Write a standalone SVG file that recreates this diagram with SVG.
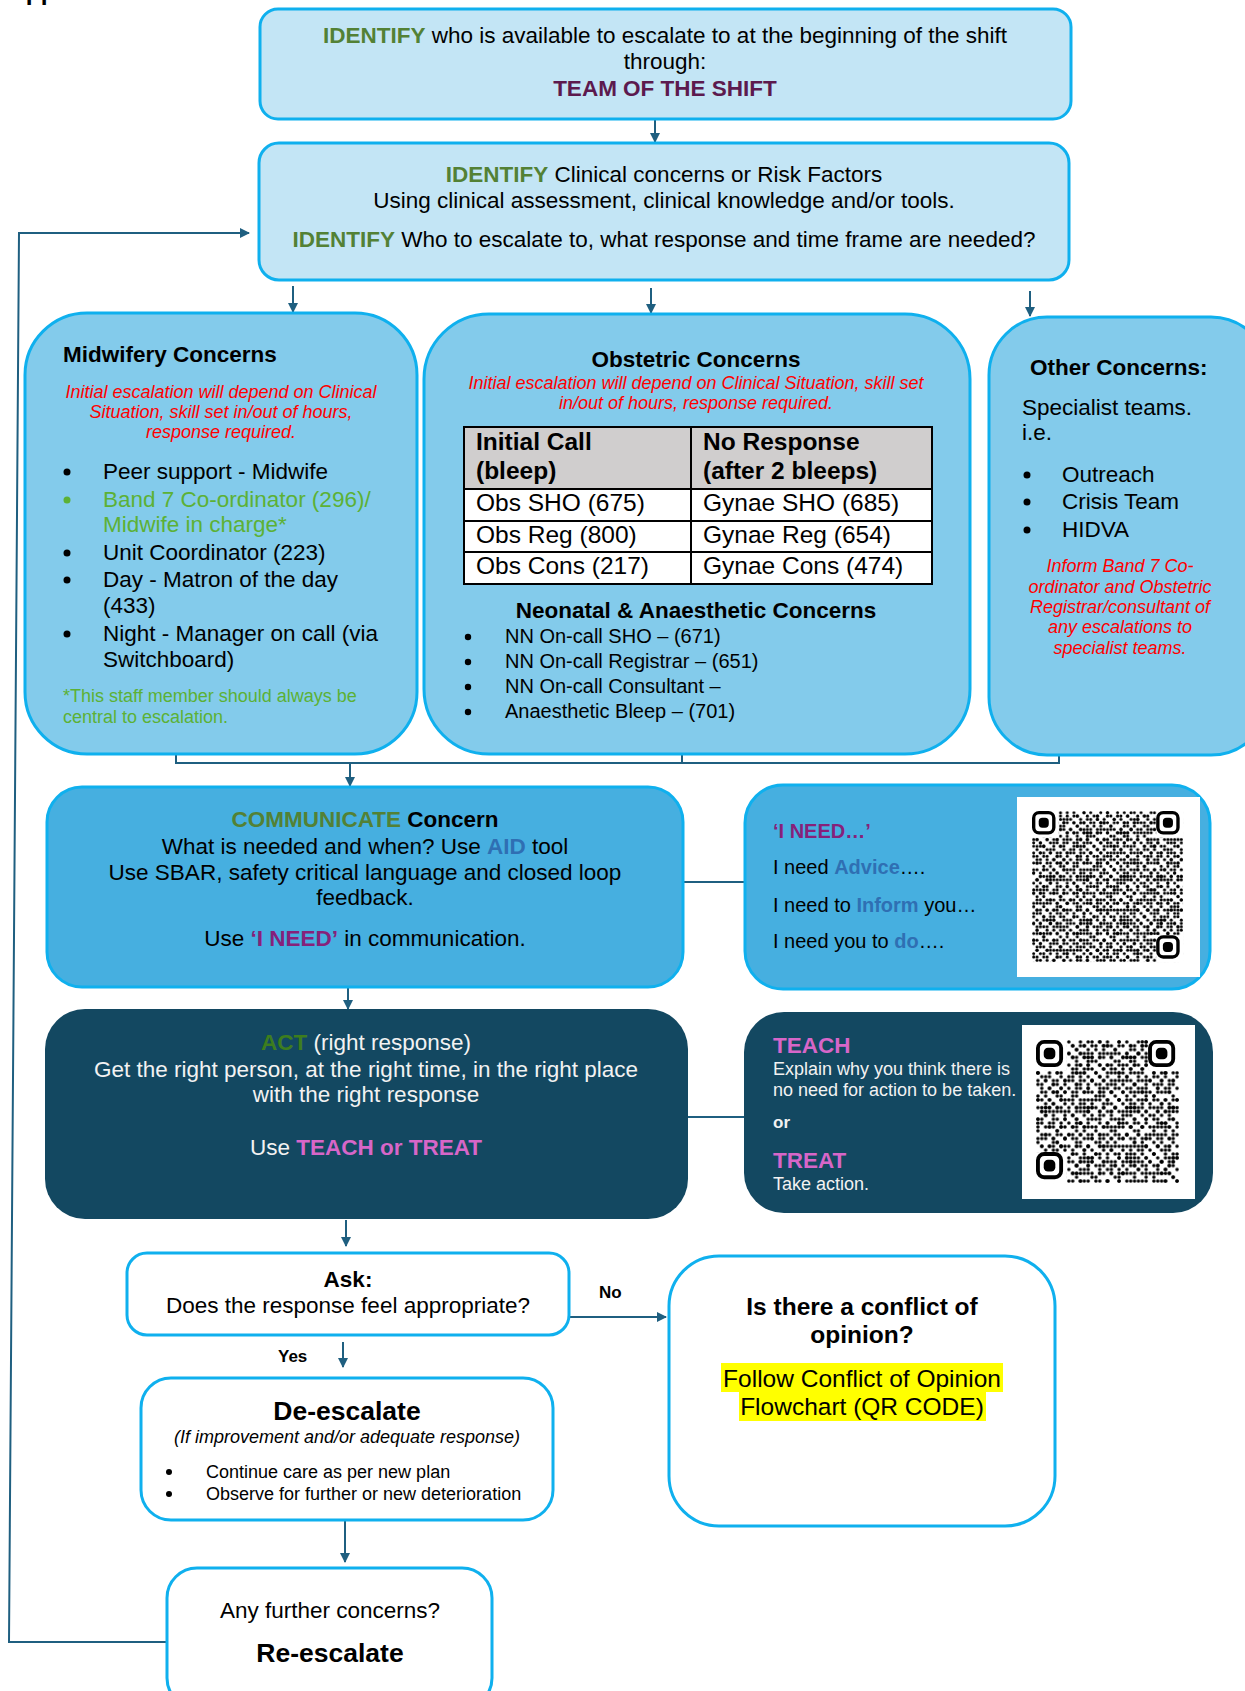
<svg xmlns="http://www.w3.org/2000/svg" width="1245" height="1691" viewBox="0 0 1245 1691">
<style>
text{font-family:"Liberation Sans",Arial,Helvetica,sans-serif;fill:#000}
.c{text-anchor:middle}
.b{font-weight:bold}
.i{font-style:italic}
.f22{font-size:22.5px}
.f20{font-size:20px}
.f18{font-size:18px}
.f24{font-size:24.5px}
.f26{font-size:26.5px}
.red{fill:#ff0000}
.grn{fill:#538135}
.lg{fill:#5cb135}
.pur{fill:#5c1a4e}
.mag{fill:#86217a}
.blu{fill:#2f6fb3}
.pink{fill:#d766c8}
.wh{fill:#f2f2f2}
.agrn{fill:#3d7d1e}
.light{fill:#c3e5f5;stroke:#0fb0ee;stroke-width:3}
.mid{fill:#83cbeb;stroke:#0fb0ee;stroke-width:3}
.comm{fill:#46afe0;stroke:#0fb0ee;stroke-width:3}
.dark{fill:#134861}
.white{fill:#ffffff;stroke:#0fb0ee;stroke-width:3}
.conn{stroke:#1f5f80;stroke-width:2;fill:none}
.arr{stroke:#1f5f80;stroke-width:2;fill:none;marker-end:url(#ah)}
.tbl{fill:none;stroke:#000;stroke-width:2}
</style>
<defs>
<marker id="ah" viewBox="0 0 10 10" refX="9" refY="5" markerWidth="5" markerHeight="5" orient="auto" markerUnits="strokeWidth">
<path d="M0,0 L10,5 L0,10 z" fill="#1f5f80"/>
</marker>
<pattern id="q1" width="5" height="3" patternUnits="userSpaceOnUse">
<circle cx="0.5" cy="0.5" r="0.45"/><circle cx="2.5" cy="0.5" r="0.45"/><circle cx="3.5" cy="1.5" r="0.45"/><circle cx="1.5" cy="2.5" r="0.45"/><circle cx="4.5" cy="2.5" r="0.45"/>
</pattern>
<pattern id="q2" width="7" height="5" patternUnits="userSpaceOnUse">
<circle cx="1.5" cy="0.5" r="0.45"/><circle cx="5.5" cy="1.5" r="0.45"/><circle cx="3.5" cy="2.5" r="0.45"/><circle cx="0.5" cy="3.5" r="0.45"/><circle cx="6.5" cy="4.5" r="0.45"/><circle cx="2.5" cy="4.5" r="0.45"/>
</pattern>
<pattern id="q3" width="3" height="7" patternUnits="userSpaceOnUse">
<circle cx="1.5" cy="1.5" r="0.45"/><circle cx="0.5" cy="3.5" r="0.45"/><circle cx="2.5" cy="5.5" r="0.45"/><circle cx="1.5" cy="6.5" r="0.45"/>
</pattern>
<pattern id="q4" width="11" height="13" patternUnits="userSpaceOnUse">
<circle cx="4.5" cy="6.5" r="0.45"/><circle cx="5.5" cy="6.5" r="0.45"/><circle cx="6.5" cy="6.5" r="0.45"/><circle cx="5.5" cy="7.5" r="0.45"/><circle cx="8.5" cy="2.5" r="0.45"/><circle cx="9.5" cy="3.5" r="0.45"/><circle cx="2.5" cy="10.5" r="0.45"/><circle cx="3.5" cy="10.5" r="0.45"/>
</pattern>
<g id="finder">
<rect x="0" y="0" width="8" height="8" fill="#fff"/>
<rect x="0.5" y="0.5" width="6" height="6" rx="1.6" fill="none" stroke="#000" stroke-width="1"/>
<rect x="2" y="2" width="3" height="3" rx="1.1" fill="#000"/>
</g>
</defs>

<text x="8" y="0" class="b f24">Appendix</text>

<g id="connectors">
<line class="arr" x1="655" y1="119" x2="655" y2="142"/>
<polyline class="arr" points="167,1642 9,1642 19,233 249,233"/>
<line class="arr" x1="293" y1="286" x2="293" y2="312"/>
<line class="arr" x1="651" y1="288" x2="651" y2="313"/>
<line class="arr" x1="1030" y1="291" x2="1030" y2="316"/>
<polyline class="conn" points="176,751 176,763 1059,763 1059,748"/>
<line class="conn" x1="682" y1="745" x2="682" y2="763"/>
<line class="arr" x1="350" y1="763" x2="350" y2="786"/>
<line class="conn" x1="683" y1="882" x2="745" y2="882"/>
<line class="arr" x1="348" y1="987" x2="348" y2="1009"/>
<line class="conn" x1="688" y1="1117" x2="744" y2="1117"/>
<line class="arr" x1="346" y1="1220" x2="346" y2="1246"/>
<line class="arr" x1="569" y1="1317" x2="666" y2="1317"/>
<line class="arr" x1="343" y1="1342" x2="343" y2="1367"/>
<line class="arr" x1="345" y1="1520" x2="345" y2="1562"/>
</g>

<g id="identify-team">
<rect class="light" x="260" y="9" width="811" height="110" rx="18"/>
<text x="665" y="43" class="c f22"><tspan class="b grn">IDENTIFY</tspan> who is available to escalate to at the beginning of the shift</text>
<text x="665" y="69" class="c f22">through:</text>
<text x="665" y="96" class="c f22 b pur">TEAM OF THE SHIFT</text>
</g>

<g id="identify-concerns">
<rect class="light" x="259" y="143" width="810" height="137" rx="20"/>
<text x="664" y="182" class="c f22"><tspan class="b grn">IDENTIFY</tspan> Clinical concerns or Risk Factors</text>
<text x="664" y="208" class="c f22">Using clinical assessment, clinical knowledge and/or tools.</text>
<text x="664" y="247" class="c f22"><tspan class="b grn">IDENTIFY</tspan> Who to escalate to, what response and time frame are needed?</text>
</g>

<g id="midwifery">
<rect class="mid" x="25" y="313" width="392" height="441" rx="62"/>
<text x="63" y="362" class="b f22">Midwifery Concerns</text>
<text x="221" y="398" class="c i f18 red">Initial escalation will depend on Clinical</text>
<text x="221" y="418" class="c i f18 red">Situation, skill set in/out of hours,</text>
<text x="221" y="438" class="c i f18 red">response required.</text>
<g class="f22">
<circle cx="67" cy="472" r="3.5"/>
<text x="103" y="479">Peer support - Midwife</text>
<circle cx="67" cy="500" r="3.5" fill="#5cb135"/>
<text x="103" y="507" class="lg">Band 7 Co-ordinator (296)/</text>
<text x="103" y="532" class="lg">Midwife in charge*</text>
<circle cx="67" cy="553" r="3.5"/>
<text x="103" y="560">Unit Coordinator (223)</text>
<circle cx="67" cy="580" r="3.5"/>
<text x="103" y="587">Day - Matron of the day</text>
<text x="103" y="613">(433)</text>
<circle cx="67" cy="634" r="3.5"/>
<text x="103" y="641">Night - Manager on call (via</text>
<text x="103" y="667">Switchboard)</text>
</g>
<text x="63" y="702" class="f18 lg">*This staff member should always be</text>
<text x="63" y="723" class="f18 lg">central to escalation.</text>
</g>

<g id="obstetric">
<rect class="mid" x="424" y="314" width="546" height="440" rx="65"/>
<text x="696" y="367" class="c b f22">Obstetric Concerns</text>
<text x="696" y="389" class="c i f18 red">Initial escalation will depend on Clinical Situation, skill set</text>
<text x="696" y="409" class="c i f18 red">in/out of hours, response required.</text>
<rect x="464" y="427" width="468" height="62" fill="#d0cece"/>
<rect x="464" y="489" width="468" height="95" fill="#ffffff"/>
<rect class="tbl" x="464" y="427" width="468" height="157"/>
<line class="tbl" x1="691" y1="427" x2="691" y2="584"/>
<line class="tbl" x1="464" y1="489" x2="932" y2="489"/>
<line class="tbl" x1="464" y1="521" x2="932" y2="521"/>
<line class="tbl" x1="464" y1="552" x2="932" y2="552"/>
<g class="f24">
<text x="476" y="450" class="b">Initial Call</text>
<text x="476" y="479" class="b">(bleep)</text>
<text x="703" y="450" class="b">No Response</text>
<text x="703" y="479" class="b">(after 2 bleeps)</text>
<text x="476" y="511">Obs SHO (675)</text>
<text x="703" y="511">Gynae SHO (685)</text>
<text x="476" y="543">Obs Reg (800)</text>
<text x="703" y="543">Gynae Reg (654)</text>
<text x="476" y="574">Obs Cons (217)</text>
<text x="703" y="574">Gynae Cons (474)</text>
</g>
<text x="696" y="618" class="c b f22">Neonatal &amp; Anaesthetic Concerns</text>
<g class="f20">
<circle cx="468" cy="637" r="3.2"/>
<text x="505" y="643">NN On-call SHO – (671)</text>
<circle cx="468" cy="662" r="3.2"/>
<text x="505" y="668">NN On-call Registrar – (651)</text>
<circle cx="468" cy="687" r="3.2"/>
<text x="505" y="693">NN On-call Consultant –</text>
<circle cx="468" cy="712" r="3.2"/>
<text x="505" y="718">Anaesthetic Bleep – (701)</text>
</g>
</g>

<g id="other">
<rect class="mid" x="989" y="317" width="280" height="438" rx="58"/>
<text x="1030" y="375" class="b f22">Other Concerns:</text>
<text x="1022" y="415" class="f22">Specialist teams.</text>
<text x="1022" y="440" class="f22">i.e.</text>
<g class="f22">
<circle cx="1027" cy="475" r="3.5"/>
<text x="1062" y="482">Outreach</text>
<circle cx="1027" cy="502" r="3.5"/>
<text x="1062" y="509">Crisis Team</text>
<circle cx="1027" cy="530" r="3.5"/>
<text x="1062" y="537">HIDVA</text>
</g>
<text x="1120" y="572" class="c i f18 red">Inform Band 7 Co-</text>
<text x="1120" y="593" class="c i f18 red">ordinator and Obstetric</text>
<text x="1120" y="613" class="c i f18 red">Registrar/consultant of</text>
<text x="1120" y="633" class="c i f18 red">any escalations to</text>
<text x="1120" y="654" class="c i f18 red">specialist teams.</text>
</g>

<g id="communicate">
<rect class="comm" x="47" y="787" width="636" height="200" rx="35"/>
<text x="365" y="827" class="c b f22"><tspan class="grn">COMMUNICATE</tspan> Concern</text>
<text x="365" y="854" class="c f22">What is needed and when? Use <tspan class="b blu">AID</tspan> tool</text>
<text x="365" y="880" class="c f22">Use SBAR, safety critical language and closed loop</text>
<text x="365" y="905" class="c f22">feedback.</text>
<text x="365" y="946" class="c f22">Use <tspan class="b mag">‘I NEED’</tspan> in communication.</text>
</g>

<g id="i-need">
<rect class="comm" x="745" y="785" width="465" height="204" rx="38"/>
<text x="773" y="838" class="b f20 mag">‘I NEED…’</text>
<text x="773" y="874" class="f20">I need <tspan class="b blu">Advice</tspan>….</text>
<text x="773" y="912" class="f20">I need to <tspan class="b blu">Inform</tspan> you…</text>
<text x="773" y="948" class="f20">I need you to <tspan class="b blu">do</tspan>….</text>
<rect x="1017" y="797" width="183" height="180" fill="#ffffff"/>
<g transform="translate(1032,811) scale(3.356)">
<rect width="45" height="45" fill="url(#q1)"/>
<rect width="45" height="45" fill="url(#q2)"/>
<rect width="45" height="45" fill="url(#q3)"/>
<rect width="45" height="45" fill="url(#q4)"/>
<use href="#finder"/>
<use href="#finder" transform="translate(37,0)"/>
<use href="#finder" transform="translate(37,37)"/>
</g>
</g>

<g id="act">
<rect class="dark" x="45" y="1009" width="643" height="210" rx="40"/>
<text x="366" y="1050" class="c f22 wh"><tspan class="agrn b">ACT</tspan> (right response)</text>
<text x="366" y="1077" class="c f22 wh">Get the right person, at the right time, in the right place</text>
<text x="366" y="1102" class="c f22 wh">with the right response</text>
<text x="366" y="1155" class="c f22 wh">Use <tspan class="b pink">TEACH or TREAT</tspan></text>
</g>

<g id="teach-treat">
<rect class="dark" x="744" y="1012" width="469" height="201" rx="40"/>
<text x="773" y="1053" class="b f22 pink">TEACH</text>
<text x="773" y="1075" class="f18 wh">Explain why you think there is</text>
<text x="773" y="1096" class="f18 wh">no need for action to be taken.</text>
<text x="773" y="1128" class="b wh" style="font-size:17px">or</text>
<text x="773" y="1168" class="b f22 pink">TREAT</text>
<text x="773" y="1190" class="f18 wh">Take action.</text>
<rect x="1022" y="1025" width="173" height="174" fill="#ffffff"/>
<g transform="translate(1036,1040) scale(3.865)">
<g transform="translate(-3,-2)">
<rect x="3" y="2" width="37" height="37" fill="url(#q1)"/>
<rect x="3" y="2" width="37" height="37" fill="url(#q2)"/>
<rect x="3" y="2" width="37" height="37" fill="url(#q3)"/>
<rect x="3" y="2" width="37" height="37" fill="url(#q4)"/>
</g>
<use href="#finder"/>
<use href="#finder" transform="translate(29,0)"/>
<use href="#finder" transform="translate(0,29)"/>
</g>
</g>

<g id="ask">
<rect class="white" x="127" y="1253" width="442" height="82" rx="20"/>
<text x="348" y="1287" class="c b f22">Ask:</text>
<text x="348" y="1313" class="c f22">Does the response feel appropriate?</text>
</g>
<text x="599" y="1298" class="b" style="font-size:17px">No</text>
<text x="278" y="1362" class="b" style="font-size:17px">Yes</text>

<g id="conflict">
<rect class="white" x="669" y="1256" width="386" height="270" rx="50"/>
<text x="862" y="1315" class="c b f24">Is there a conflict of</text>
<text x="862" y="1343" class="c b f24">opinion?</text>
<rect x="721" y="1363" width="282" height="29" fill="#ffff00"/>
<rect x="739" y="1392" width="247" height="29" fill="#ffff00"/>
<text x="862" y="1387" class="c f24">Follow Conflict of Opinion</text>
<text x="862" y="1415" class="c f24">Flowchart (QR CODE)</text>
</g>

<g id="de-escalate">
<rect class="white" x="141" y="1378" width="412" height="142" rx="30"/>
<text x="347" y="1420" class="c b f26">De-escalate</text>
<text x="347" y="1443" class="c i f18">(If improvement and/or adequate response)</text>
<circle cx="169" cy="1472" r="3"/>
<text x="206" y="1478" class="f18">Continue care as per new plan</text>
<circle cx="169" cy="1494" r="3"/>
<text x="206" y="1500" class="f18">Observe for further or new deterioration</text>
</g>

<g id="re-escalate">
<rect class="white" x="167" y="1568" width="325" height="140" rx="30"/>
<text x="330" y="1618" class="c f22">Any further concerns?</text>
<text x="330" y="1662" class="c b f26">Re-escalate</text>
</g>
</svg>
